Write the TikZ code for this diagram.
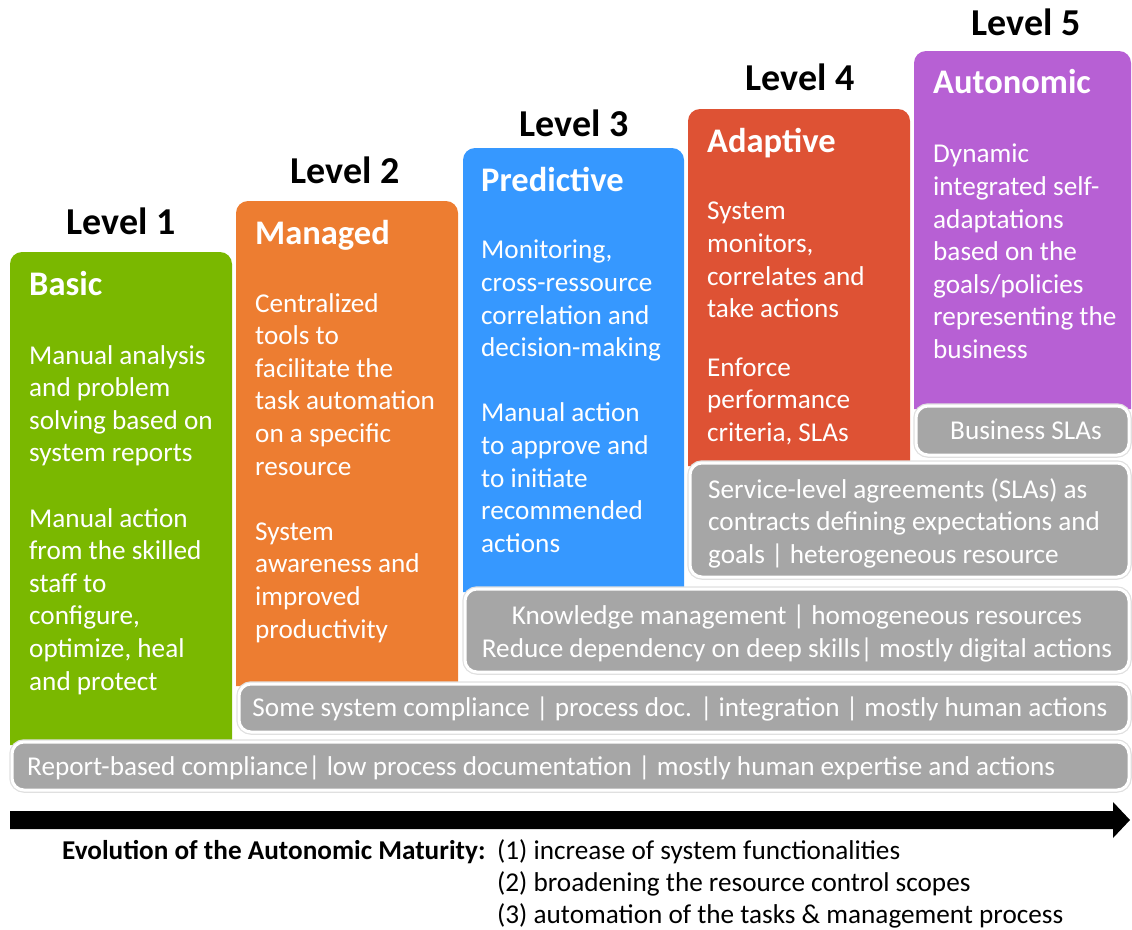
\documentclass[tikz,border=0pt]{standalone}
\usepackage{fontspec}
\setmainfont{Carlito}
\usepackage{tikz}

\definecolor{lvlgreen}{RGB}{122,184,0}
\definecolor{lvlorange}{RGB}{237,125,49}
\definecolor{lvlblue}{RGB}{54,152,255}
\definecolor{lvlred}{RGB}{222,82,52}
\definecolor{lvlpurple}{RGB}{183,96,212}
\definecolor{bargray}{RGB}{166,166,166}

\begin{document}
\begin{tikzpicture}
	[x=1pt, y=-1pt,
	level label/.style={font=\fontsize{38}{40}\selectfont\bfseries, anchor=base, inner sep=0pt},
	title/.style={font=\fontsize{34.5}{36}\selectfont\bfseries, text=white, anchor=base west, inner sep=0pt},
	body/.style={font=\fontsize{27.2}{32.6}\selectfont, text=white, align=left, anchor=north west, inner sep=0pt, execute at begin node=\strut},
	bar/.style={fill=bargray, draw=white, line width=3pt, rounded corners=12pt, preaction={draw=black!12, line width=5.5pt}},
	bar text/.style={font=\fontsize{27.2}{32.6}\selectfont, text=white, inner sep=0pt, execute at begin node=\strut},
	legend/.style={font=\fontsize{27.2}{32}\selectfont, anchor=base west, inner sep=0pt}]
	\useasboundingbox (0,0) rectangle (1132,929);

	%level columns
	\foreach \col/\xa/\xb/\top/\bot in {lvlgreen/10/232/252/745, lvlorange/236/458/201/686, lvlblue/463/684/148/592, lvlred/688/910/109/466, lvlpurple/914/1131/51/409}{
		\fill[\col] (\xa,\bot) [rounded corners=12pt] -- (\xa,\top) -- (\xb,\top) [sharp corners] -- (\xb,\bot) -- cycle;
	}

	\foreach \n/\x/\y in {1/121/234, 2/345/183, 3/574/136, 4/800/90, 5/1026/35}{
		\node[level label] (level\n) at (\x,\y) {Level \n};
	}

	%titles and texts
	\node[title] (basic) at (29,295) {Basic};
	\node[title] (managed) at (255,244) {Managed};
	\node[title] (predictive) at (481,191) {Predictive};
	\node[title] (adaptive) at (707,152) {Adaptive};
	\node[title] (autonomic) at (933,93) {Autonomic};

	\node[body] (basic text) at (29,345) {Manual analysis\\and problem\\solving based on\\system reports\\[32.6pt]
		Manual action\\from the skilled\\staff to\\configure,\\optimize, heal\\and protect};
	\node[body] (managed text) at (255,293) {Centralized\\tools to\\facilitate the\\task automation\\on a specific\\resource\\[32.6pt]
		System\\awareness and\\improved\\productivity};
	\node[body] (predictive text) at (481,240) {Monitoring,\\cross-ressource\\correlation and\\decision-making\\[32.6pt]
		Manual action\\to approve and\\to initiate\\recommended\\actions};
	\node[body] (adaptive text) at (707,202) {System\\monitors,\\correlates and\\take actions\\[26pt]
		Enforce\\performance\\criteria, SLAs};
	\node[body] (autonomic text) at (933,144) {Dynamic\\integrated self-\\adaptations\\based on the\\goals/policies\\representing the\\business};

	%gray bars
	\path[bar] (916,406) rectangle (1129,455);
	\path[bar] (690,463) rectangle (1129,577);
	\path[bar] (465,589) rectangle (1129,672);
	\path[bar] (239,684) rectangle (1129,732);
	\path[bar] (12,742) rectangle (1129,790);

	\node[bar text, anchor=base] (business) at (1026,439) {Business SLAs};
	\node[bar text, align=left, anchor=north west] (sla) at (708,478) {Service-level agreements (SLAs) as\\contracts defining expectations and\\goals | heterogeneous resource};
	\node[bar text, align=center, anchor=north] (knowledge) at (797,605) {Knowledge management | homogeneous resources\\Reduce dependency on deep skills| mostly digital actions};
	\node[bar text, anchor=base] (compliance) at (680,716) {Some system compliance | process doc. | integration | mostly human actions};
	\node[bar text, anchor=base west] (report) at (27,775) {Report-based compliance| low process documentation | mostly human expertise and actions};

	%arrow
	\fill (10,811) -- (1113,811) -- (1113,802) -- (1130,820) -- (1113,838) -- (1113,829) -- (10,829) -- cycle;

	\node[legend, font=\fontsize{27.2}{32}\selectfont\bfseries] (evolution) at (62,859) {Evolution of the Autonomic Maturity:};
	\node[legend] (item1) at (497,859) {(1) increase of system functionalities};
	\node[legend] (item2) at (497,891) {(2) broadening the resource control scopes};
	\node[legend] (item3) at (497,923) {(3) automation of the tasks \& management process};
\end{tikzpicture}
\end{document}
